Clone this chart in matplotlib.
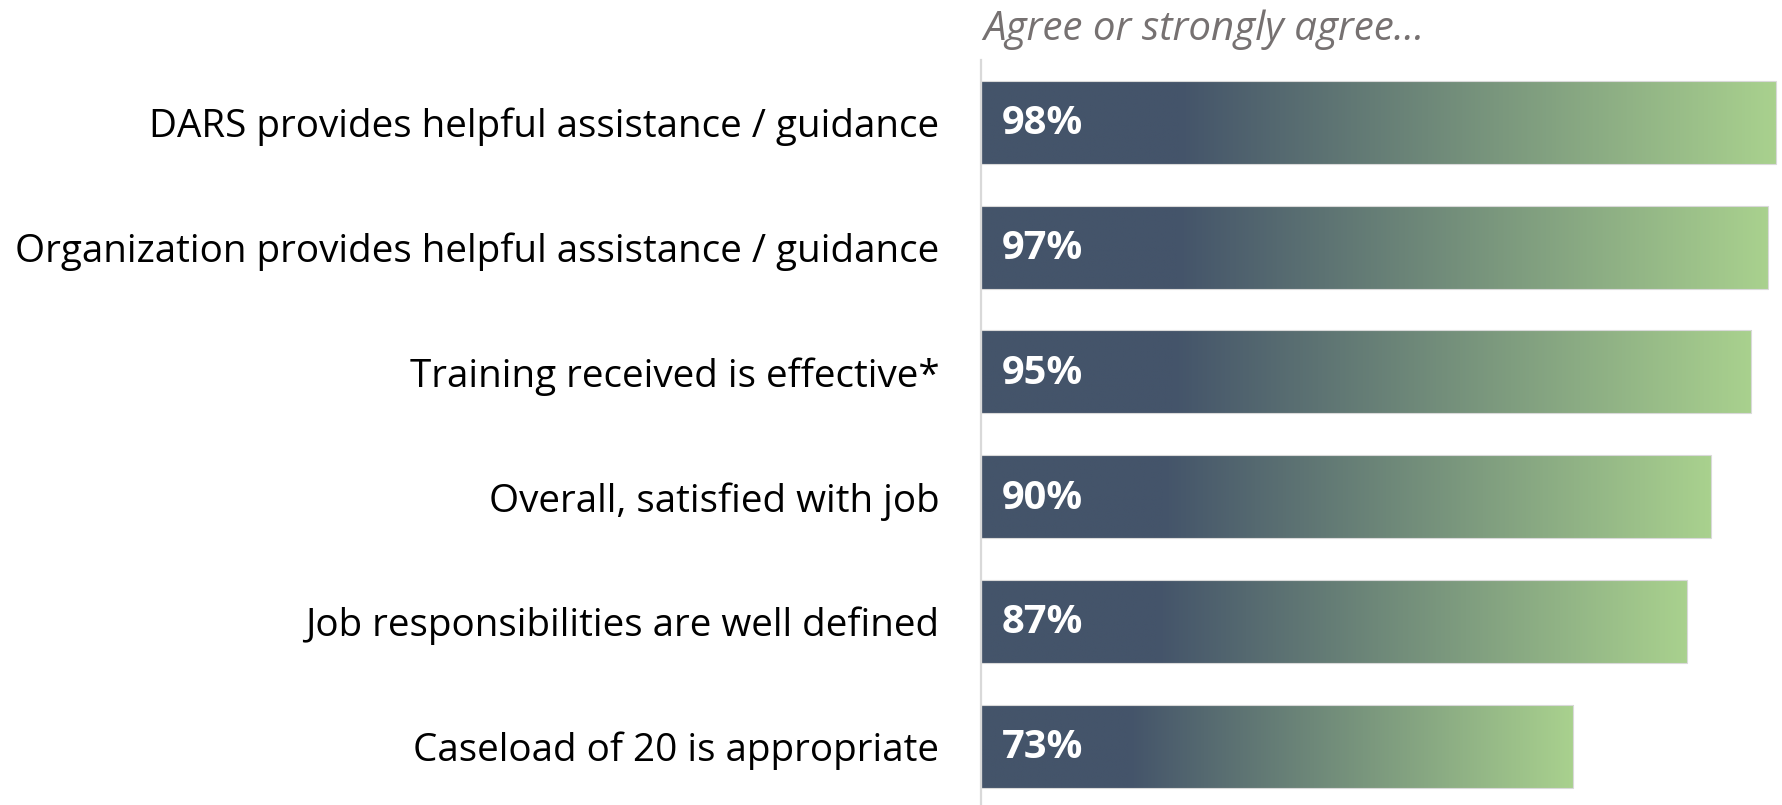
import numpy as np
import matplotlib
matplotlib.use("Agg")
import matplotlib.pyplot as plt
from matplotlib.colors import LinearSegmentedColormap
from matplotlib.patches import Rectangle

categories = [
    "DARS provides helpful assistance / guidance",
    "Organization provides helpful assistance / guidance",
    "Training received is effective*",
    "Overall, satisfied with job",
    "Job responsibilities are well defined",
    "Caseload of 20 is appropriate",
]
values = [98, 97, 95, 90, 87, 73]
value_labels = ["98%", "97%", "95%", "90%", "87%", "73%"]
header = "Agree or strongly agree…"

W, H, DPI = 1783, 805, 100
fig = plt.figure(figsize=(W / DPI, H / DPI), dpi=DPI)
fig.patch.set_facecolor("white")

left_px = 981
ax = fig.add_axes([left_px / W, 0, 1 - left_px / W, 1 - 60 / H])
px_per_unit = 8.11

# dark slate for the first quarter of each bar, then fading to soft green
cmap = LinearSegmentedColormap.from_list(
    "slate_green", [(0.0, "#44546A"), (0.25, "#44546A"), (1.0, "#A9D18E")]
)
grad = np.linspace(0, 1, 512).reshape(1, -1)
bar_h = 0.665
fam = ["Open Sans", "DejaVu Sans"]

for i, v in enumerate(values):
    y0, y1 = i - bar_h / 2, i + bar_h / 2
    ax.imshow(grad, cmap=cmap, aspect="auto", extent=[0, v, y1, y0],
              interpolation="bilinear", zorder=2)
    ax.add_patch(Rectangle((0, y0), v, bar_h, fill=False,
                           edgecolor="#D9D9D9", linewidth=0.8, zorder=3))
    ax.annotate(value_labels[i], xy=(0, i), xytext=(15, -1),
                textcoords="offset points", va="center", ha="left",
                color="white", fontsize=28.6, fontweight="bold",
                family=fam, zorder=4)

ax.set_xlim(0, (W - left_px) / px_per_unit)
ax.set_ylim(5.47, -0.5)

for s in ["top", "right", "bottom"]:
    ax.spines[s].set_visible(False)
ax.spines["left"].set_color("#D9D9D9")
ax.spines["left"].set_linewidth(1.6)
ax.set_xticks([])
ax.set_yticks(range(len(categories)))
ax.set_yticklabels(categories, fontsize=27.85, family=fam, color="black")
ax.tick_params(axis="y", length=0, pad=30)

fig.text(983 / W, 1 - 40 / H, header, ha="left", va="baseline",
         fontsize=29, style="italic", color="#767171", family=fam)

fig.savefig("out.png", dpi=DPI, facecolor="white")
